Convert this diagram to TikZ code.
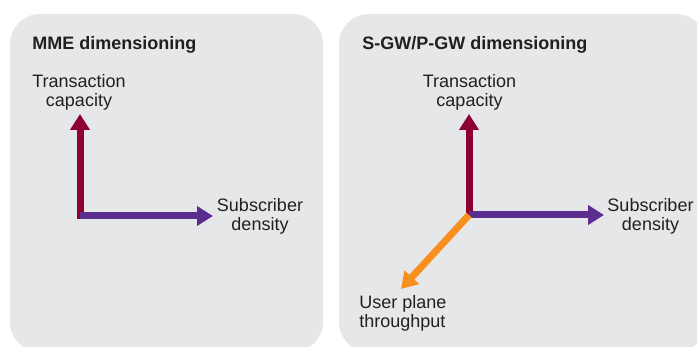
\documentclass[tikz,border=0pt]{standalone}
\usepackage{fontspec}
\setmainfont{Liberation Sans}
\usetikzlibrary{arrows.meta}
\definecolor{panelgrey}{HTML}{E6E7E8}
\definecolor{crimson}{HTML}{8C0036}
\definecolor{axpurple}{HTML}{5A2D8F}
\definecolor{axorange}{HTML}{F7901E}
\definecolor{txt}{HTML}{231F20}
\tikzset{
  panel/.style={fill=panelgrey, draw=none, rounded corners=15pt},
  title/.style={font=\bfseries\fontsize{9}{9.6}\selectfont, text=txt, inner sep=0pt, anchor=base west},
  lbl/.style={font=\fontsize{9}{9.6}\selectfont, text=txt, inner sep=0pt, align=center},
  axis/.style={line width=3.5pt, -{Triangle[width=9.5pt,length=8pt]}},
}
\begin{document}
\begin{tikzpicture}[x=0.5pt,y=-0.5pt]
\useasboundingbox (0,0) rectangle (697,347);
\fill[white] (0,0) rectangle (697,347);
\begin{scope}
\clip (0,0) rectangle (697,347);
\path[panel] (10,14) rectangle (323,352);
\path[panel] (339,14) rectangle (706,352);
\end{scope}
% left panel
\node[title] (t1) at (32,50) {MME dimensioning};
\coordinate (o1) at (80,216);
\coordinate (v1) at (80,114);
\coordinate (h1) at (213,216);
\draw[axis, crimson] ([yshift=-1.75pt]o1) -- (v1);
\draw[axis, axpurple] (o1) -- (h1);
\node[lbl] (tc1) at (79,92.5) {Transaction\\capacity};
\node[lbl] (sd1) at (260,216) {Subscriber\\density};
% right panel
\node[title] (t2) at (362,50) {S-GW/P-GW dimensioning};
\coordinate (o2) at (469,215);
\coordinate (v2) at (469,114);
\coordinate (h2) at (604,215);
\coordinate (d2) at (401,289);
\draw[axis, crimson] ([yshift=-1.75pt]o2) -- (v2);
\draw[axis, axpurple] (o2) -- (h2);
\draw[axis, axorange] (o2) -- (d2);
\node[lbl] (tc2) at (469.5,92.5) {Transaction\\capacity};
\node[lbl] (sd2) at (650.5,216) {Subscriber\\density};
\node[lbl, align=left, anchor=west] (up2) at (359,313.5) {User plane\\throughput};
\end{tikzpicture}
\end{document}
